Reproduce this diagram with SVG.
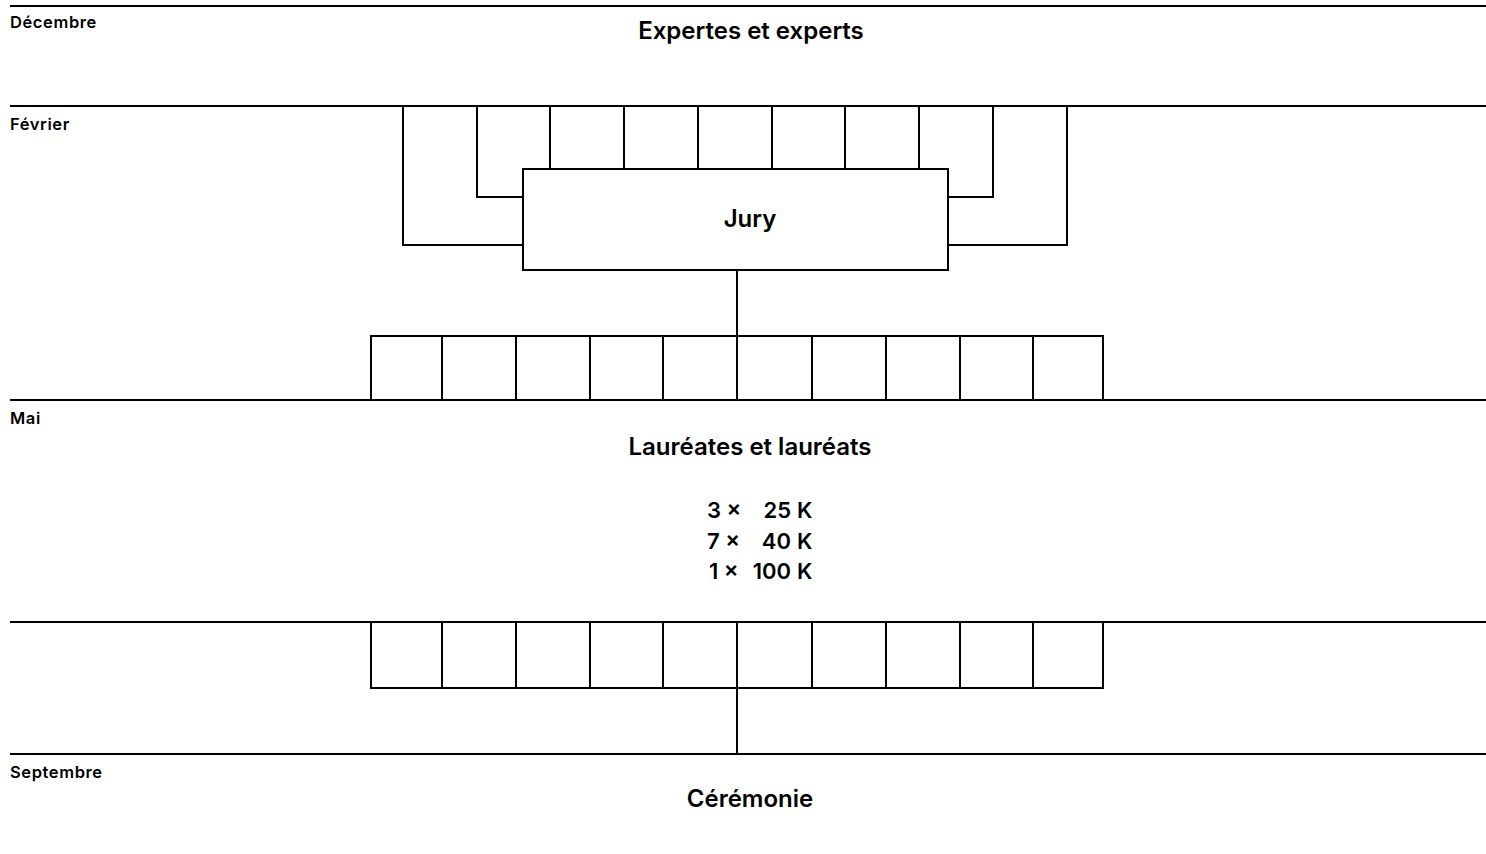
<svg xmlns="http://www.w3.org/2000/svg" width="1486" height="854" viewBox="0 0 1486 854">
<style>
.ln{stroke:#000;stroke-width:2;fill:none}
.bx{stroke:#000;stroke-width:2;fill:#fff}
.mo{font-family:Inter,"Liberation Sans",sans-serif;font-weight:600;font-size:16.5px;letter-spacing:0.6px;fill:#000}
.tt{font-family:Inter,"Liberation Sans",sans-serif;font-weight:600;font-size:24px;fill:#000;text-anchor:middle}
.nm{font-family:Inter,"Liberation Sans",sans-serif;font-weight:600;font-size:22px;fill:#000}
</style>
<rect width="1486" height="854" fill="#fff"/>
<g id="timeline">
<line class="ln" x1="10" y1="6" x2="1486" y2="6"/>
<line class="ln" x1="10" y1="106" x2="1486" y2="106"/>
<line class="ln" x1="10" y1="400" x2="1486" y2="400"/>
<line class="ln" x1="10" y1="622" x2="1486" y2="622"/>
<line class="ln" x1="10" y1="754" x2="1486" y2="754"/>
<text class="mo" x="10" y="28">Décembre</text>
<text class="mo" x="10" y="130">Février</text>
<text class="mo" x="10" y="424">Mai</text>
<text class="mo" x="10" y="778">Septembre</text>
</g>
<g id="connectors">
<polyline class="ln" points="403,106 403,245 523,245"/>
<polyline class="ln" points="477,106 477,197 523,197"/>
<line class="ln" x1="550" y1="106" x2="550" y2="169"/>
<line class="ln" x1="624" y1="106" x2="624" y2="169"/>
<line class="ln" x1="698" y1="106" x2="698" y2="169"/>
<line class="ln" x1="772" y1="106" x2="772" y2="169"/>
<line class="ln" x1="845" y1="106" x2="845" y2="169"/>
<line class="ln" x1="919" y1="106" x2="919" y2="169"/>
<polyline class="ln" points="993,106 993,197 948,197"/>
<polyline class="ln" points="1067,106 1067,245 948,245"/>
<line class="ln" x1="737" y1="270" x2="737" y2="336"/>
<line class="ln" x1="737" y1="688" x2="737" y2="754"/>
</g>
<g id="experts">
<text class="tt" x="751" y="39">Expertes et experts</text>
</g>
<g id="jury">
<rect class="bx" x="523" y="169" width="425" height="101"/>
<text class="tt" x="750" y="227">Jury</text>
</g>
<g id="selection">
<rect class="bx" x="371" y="336" width="732" height="64"/>
<path class="ln" d="M442,336V400M516,336V400M590,336V400M663,336V400M737,336V400M812,336V400M886,336V400M960,336V400M1033,336V400"/>
</g>
<g id="laureats">
<text class="tt" x="750" y="455">Lauréates et lauréats</text>
</g>
<g id="prix">
<text class="nm" x="707" y="518">3 ×</text>
<text class="nm" x="791" y="518" text-anchor="end">25</text>
<text class="nm" x="797" y="518">K</text>
<text class="nm" x="707" y="549">7 ×</text>
<text class="nm" x="791" y="549" text-anchor="end">40</text>
<text class="nm" x="797" y="549">K</text>
<text class="nm" x="709" y="579">1 ×</text>
<text class="nm" x="791" y="579" text-anchor="end">100</text>
<text class="nm" x="797" y="579">K</text>
</g>
<g id="remise">
<rect class="bx" x="371" y="622" width="732" height="66"/>
<path class="ln" d="M442,622V688M516,622V688M590,622V688M663,622V688M737,622V688M812,622V688M886,622V688M960,622V688M1033,622V688"/>
</g>
<g id="ceremonie">
<text class="tt" x="750" y="807">Cérémonie</text>
</g>
</svg>
